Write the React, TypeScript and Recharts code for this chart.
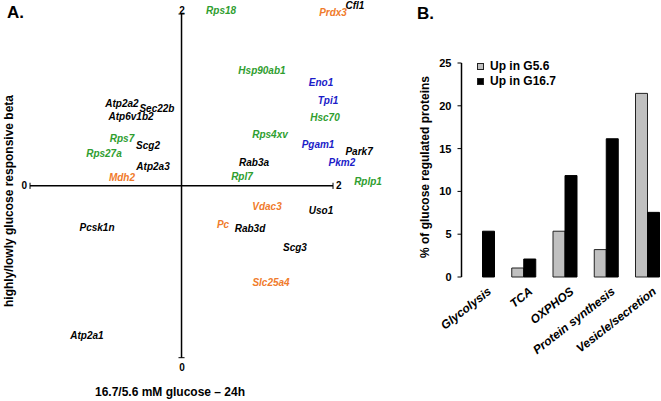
import React from 'react';
import {
  ScatterChart,
  Scatter,
  XAxis,
  YAxis,
  ReferenceLine,
  ReferenceDot,
  BarChart,
  Bar,
  Legend,
} from 'recharts';

const FONT = '"Liberation Sans", Arial, Helvetica, sans-serif';

// ---------- Panel A data (x: 16.7/5.6 mM glucose ratio, y: highly/lowly responsive beta) ----------
const greenProteins = [
  { name: 'Rps18', x: 1.261, y: 2.018 },
  { name: 'Hsp90ab1', x: 1.531, y: 1.674 },
  { name: 'Hsc70', x: 1.947, y: 1.395 },
  { name: 'Rps4xv', x: 1.584, y: 1.296 },
  { name: 'Rpl7', x: 1.399, y: 1.057 },
  { name: 'Rplp1', x: 2.231, y: 1.028 },
  { name: 'Rps7', x: 0.607, y: 1.273 },
  { name: 'Rps27a', x: 0.488, y: 1.191 },
];
const orangeProteins = [
  { name: 'Prdx3', x: 2.0, y: 2.006 },
  { name: 'Mdh2', x: 0.607, y: 1.051 },
  { name: 'Vdac3', x: 1.564, y: 0.877 },
  { name: 'Pc', x: 1.274, y: 0.778 },
  { name: 'Slc25a4', x: 1.591, y: 0.44 },
];
const blueProteins = [
  { name: 'Eno1', x: 1.921, y: 1.599 },
  { name: 'Tpi1', x: 1.967, y: 1.494 },
  { name: 'Pgam1', x: 1.901, y: 1.238 },
  { name: 'Pkm2', x: 2.059, y: 1.133 },
];
const blackProteins = [
  { name: 'Cfl1', x: 2.145, y: 2.047 },
  { name: 'Atp2a2', x: 0.607, y: 1.482 },
  { name: 'Sec22b', x: 0.838, y: 1.453 },
  { name: 'Atp6v1b2', x: 0.667, y: 1.401 },
  { name: 'Scg2', x: 0.779, y: 1.232 },
  { name: 'Atp2a3', x: 0.812, y: 1.115 },
  { name: 'Park7', x: 2.172, y: 1.197 },
  { name: 'Rab3a', x: 1.479, y: 1.133 },
  { name: 'Pcsk1n', x: 0.442, y: 0.755 },
  { name: 'Uso1', x: 1.921, y: 0.859 },
  { name: 'Rab3d', x: 1.452, y: 0.749 },
  { name: 'Scg3', x: 1.749, y: 0.644 },
  { name: 'Atp2a1', x: 0.376, y: 0.132 },
];
const axisMin = 0;
const axisMid = 1;
const axisMax = 2;

// ---------- Panel B data ----------
const categories = ['Glycolysis', 'TCA', 'OXPHOS', 'Protein synthesis', 'Vesicle/secretion'];
const upInG56 = [0, 1.05, 5.35, 3.2, 21.45];
const upInG167 = [5.35, 2.1, 11.85, 16.15, 7.55];
const barTicks = [0, 5, 10, 15, 20, 25];
const seriesNames = ['Up in G5.6', 'Up in G16.7'];

const barData = categories.map((c, i) => ({ category: c, g56: upInG56[i], g167: upInG167[i] }));

const GREEN = '#2f9e2f';
const ORANGE = '#f07b2c';
const BLUE = '#1c1cc8';
const BLACK = '#000000';
const GRAY = '#c0c0c0';

const labelShape = (color: string) => (props: any) => (
  <text
    x={props.cx}
    y={props.cy}
    dy="0.35em"
    textAnchor="middle"
    fill={color}
    fontFamily={FONT}
    fontSize={10}
    fontWeight="bold"
    fontStyle="italic"
  >
    {props.payload.name}
  </text>
);

const endLabel = (text: string, dx: number, dy: number, anchor: string) => (props: any) => (
  <text
    x={props.cx + dx}
    y={props.cy + dy}
    textAnchor={anchor}
    fill="#000"
    fontFamily={FONT}
    fontSize={10}
    fontWeight="bold"
  >
    {text}
  </text>
);

const CategoryTick = (props: any) => {
  const { x, y, payload } = props;
  return (
    <g transform={`translate(${x + 10},${y + 16})`}>
      <text
        textAnchor="end"
        transform="rotate(-38)"
        fill="#000"
        fontFamily={FONT}
        fontSize={12}
        fontWeight="bold"
        fontStyle="italic"
      >
        {payload.value}
      </text>
    </g>
  );
};

const LegendContent = () => (
  <div style={{ fontFamily: FONT, fontSize: 12, fontWeight: 'bold', color: '#000', lineHeight: '15px' }}>
    {seriesNames.map((n, i) => (
      <div key={n} style={{ display: 'flex', alignItems: 'center', whiteSpace: 'nowrap' }}>
        <span
          style={{
            display: 'inline-block',
            width: 5,
            height: 5,
            background: i === 0 ? GRAY : BLACK,
            border: '1px solid #222',
            marginRight: 6,
          }}
        />
        {n}
      </div>
    ))}
  </div>
);

const tickDX = 0.02;
const tickDY = 0.018;

export default function App() {
  const titleStyle: any = { fontFamily: FONT, fontWeight: 'bold', fill: '#000' };
  return (
    <div
      style={{
        position: 'absolute',
        left: 0,
        top: 0,
        width: 661,
        height: 401,
        overflow: 'hidden',
        background: '#fff',
      }}
    >
      <div style={{ position: 'absolute', left: 0, top: 0 }}>
        <ScatterChart
          width={410}
          height={401}
          margin={{ top: 0, right: 8.8, bottom: 8.93, left: 7.3 }}
        >
          <XAxis type="number" dataKey="x" domain={[-0.15, 2.45]} hide allowDataOverflow />
          <YAxis type="number" dataKey="y" domain={[-0.2, 2.0815]} hide allowDataOverflow />
          <ReferenceLine
            segment={[{ x: axisMin, y: axisMid }, { x: axisMax, y: axisMid }]}
            stroke="#000"
            strokeWidth={1.5}
          />
          <ReferenceLine
            segment={[{ x: axisMid, y: axisMin }, { x: axisMid, y: axisMax }]}
            stroke="#000"
            strokeWidth={1.5}
          />
          <ReferenceLine segment={[{ x: axisMin, y: axisMid - tickDY }, { x: axisMin, y: axisMid + tickDY }]} stroke="#000" strokeWidth={1} />
          <ReferenceLine segment={[{ x: axisMax, y: axisMid - tickDY }, { x: axisMax, y: axisMid + tickDY }]} stroke="#000" strokeWidth={1} />
          <ReferenceLine segment={[{ x: axisMid - tickDX, y: axisMin }, { x: axisMid + tickDX, y: axisMin }]} stroke="#000" strokeWidth={1} />
          <ReferenceLine segment={[{ x: axisMid - tickDX, y: axisMax }, { x: axisMid + tickDX, y: axisMax }]} stroke="#000" strokeWidth={1} />
          <ReferenceDot x={axisMin} y={axisMid} r={0} shape={endLabel(String(axisMin), -3, 3.5, 'end')} />
          <ReferenceDot x={axisMax} y={axisMid} r={0} shape={endLabel(String(axisMax), 3, 3.5, 'start')} />
          <ReferenceDot x={axisMid} y={axisMax} r={0} shape={endLabel(String(axisMax), 0.5, -0.5, 'middle')} />
          <ReferenceDot x={axisMid} y={axisMin} r={0} shape={endLabel(String(axisMin), 0.5, 13.5, 'middle')} />
          <Scatter data={greenProteins} fill={GREEN} shape={labelShape(GREEN)} isAnimationActive={false} />
          <Scatter data={orangeProteins} fill={ORANGE} shape={labelShape(ORANGE)} isAnimationActive={false} />
          <Scatter data={blueProteins} fill={BLUE} shape={labelShape(BLUE)} isAnimationActive={false} />
          <Scatter data={blackProteins} fill={BLACK} shape={labelShape(BLACK)} isAnimationActive={false} />
        </ScatterChart>
      </div>

      <div style={{ position: 'absolute', left: 0, top: 0 }}>
        <BarChart
          width={680}
          height={401}
          data={barData}
          margin={{ top: 63, right: 12.25, bottom: 94, left: 401.5 }}
          barGap={0}
          barSize={12}
        >
          <XAxis
            dataKey="category"
            axisLine={false}
            tickLine={false}
            tickSize={0}
            tickMargin={0}
            height={30}
            interval={0}
            tick={<CategoryTick />}
          />
          <YAxis
            domain={[0, 25]}
            ticks={barTicks}
            width={60}
            axisLine={{ stroke: '#000', strokeWidth: 1.5 }}
            tickLine={{ stroke: '#000', strokeWidth: 1 }}
            tickSize={4}
            tickMargin={6}
            tick={{ fontFamily: FONT, fontSize: 11, fontWeight: 'bold', fill: '#000' }}
          />
          <Legend
            layout="vertical"
            align="center"
            verticalAlign="middle"
            wrapperStyle={{ position: 'absolute', left: 477, top: 59, width: 'auto' }}
            content={<LegendContent />}
          />
          <Bar dataKey="g56" name={seriesNames[0]} fill={GRAY} stroke="#222" strokeWidth={1} isAnimationActive={false} />
          <Bar dataKey="g167" name={seriesNames[1]} fill={BLACK} stroke="#000" strokeWidth={1} isAnimationActive={false} />
        </BarChart>
      </div>

      <svg
        width={661}
        height={401}
        style={{ position: 'absolute', left: 0, top: 0, pointerEvents: 'none' }}
      >
        <text x={7} y={18} {...titleStyle} fontSize={17}>A.</text>
        <text x={417} y={19} {...titleStyle} fontSize={17}>B.</text>
        <text x={170} y={396} textAnchor="middle" {...titleStyle} fontSize={12}>
          16.7/5.6 mM glucose – 24h
        </text>
        <text
          transform="translate(13,201) rotate(-90)"
          textAnchor="middle"
          {...titleStyle}
          fontSize={12}
        >
          highly/lowly glucose responsive beta
        </text>
        <text
          transform="translate(429,167) rotate(-90)"
          textAnchor="middle"
          {...titleStyle}
          fontSize={12}
        >
          % of glucose regulated proteins
        </text>
      </svg>
    </div>
  );
}
